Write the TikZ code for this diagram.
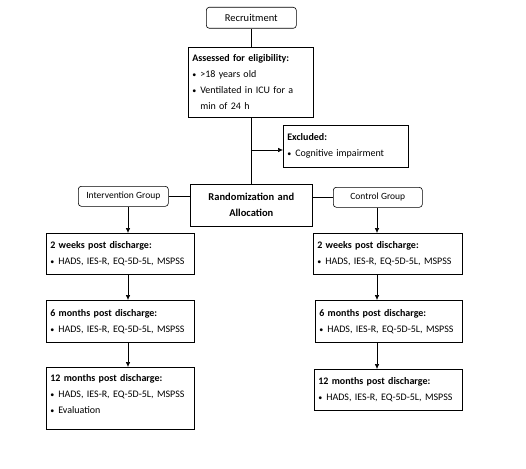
\documentclass[tikz,border=0pt]{standalone}
\usepackage{fontspec}
\setmainfont{Carlito}
\usetikzlibrary{arrows.meta}
\newcommand{\bul}{\par\noindent\makebox[8pt][l]{\footnotesize\textbullet}}
\begin{document}
\begin{tikzpicture}[x=1pt,y=-1pt,line width=0.6pt,
  rbox/.style={draw, rounded corners=3pt, anchor=north west, minimum height=20pt, inner sep=0pt, font=\fontsize{9.5}{12}\selectfont},
  tbox/.style={draw, anchor=north west, align=left, inner xsep=4pt, inner ysep=0pt, font=\fontsize{10}{16}\selectfont},
  arr/.style={-{Latex[length=5pt,width=4.5pt]}}]
\useasboundingbox (0,0) rectangle (526,468);
% top part
\node[rbox, minimum width=90pt, minimum height=21pt, font=\fontsize{10.5}{12}\selectfont] (recruit) at (206,7) {Recruitment};
\node[tbox, text width=117pt, minimum height=70pt] (assess) at (188,47) {\textbf{Assessed for eligibility:}\bul >18 years old\bul Ventilated in ICU for a\\\hspace*{8pt}min of 24 h};
\node[tbox, text width=117pt, minimum height=42pt] (excl) at (283,125) {\textbf{Excluded:}\bul Cognitive impairment};
\node[tbox, text width=114pt, minimum height=42pt, align=center, font=\fontsize{10.5}{16}\selectfont\bfseries] (random) at (190,184) {Randomization and\\Allocation};
\node[rbox, minimum width=90pt] (intv) at (78,186) {Intervention Group};
\node[rbox, minimum width=89pt] (ctrl) at (333,187) {Control Group};
% left column
\node[tbox, text width=140pt, minimum height=41pt] (l2w) at (46,233) {\textbf{2 weeks post discharge:}\bul HADS, IES-R, EQ-5D-5L, MSPSS};
\node[tbox, text width=140pt, minimum height=42pt] (l6m) at (46,300) {\textbf{6 months post discharge:}\bul HADS, IES-R, EQ-5D-5L, MSPSS};
\node[tbox, text width=140pt, minimum height=62pt] (l12m) at (46,367) {\textbf{12 months post discharge:}\bul HADS, IES-R, EQ-5D-5L, MSPSS\bul Evaluation\rule[-8.5pt]{0pt}{8.5pt}};
% right column
\node[tbox, text width=141pt, minimum height=41pt] (r2w) at (313,233) {\textbf{2 weeks post discharge:}\bul HADS, IES-R, EQ-5D-5L, MSPSS};
\node[tbox, text width=139pt, minimum height=42pt] (r6m) at (315,300) {\textbf{6 months post discharge:}\bul HADS, IES-R, EQ-5D-5L, MSPSS};
\node[tbox, text width=140pt, minimum height=41pt] (r12m) at (314,369) {\textbf{12 months post discharge:}\bul HADS, IES-R, EQ-5D-5L, MSPSS};
% connectors
\draw (recruit.south) -- (recruit.south |- assess.north);
\draw (assess.south) -- (assess.south |- random.north);
\coordinate (split) at (assess.south |- 0,150);
\draw[arr] (split) -- (split -| excl.west);
\draw (intv.east) -- (intv.east -| random.west);
\draw (random.east |- ctrl.west) -- (ctrl.west);
\coordinate (lx) at (128,0); % x of the left arrows
\coordinate (rx) at (377,0); % x of the right arrows
\foreach \a/\b in {intv/l2w,l2w/l6m,l6m/l12m}
\draw[arr] (\a.south -| lx) -- (\b.north -| lx);
\foreach \a/\b in {ctrl/r2w,r2w/r6m,r6m/r12m}
\draw[arr] (\a.south -| rx) -- (\b.north -| rx);
\end{tikzpicture}
\end{document}
